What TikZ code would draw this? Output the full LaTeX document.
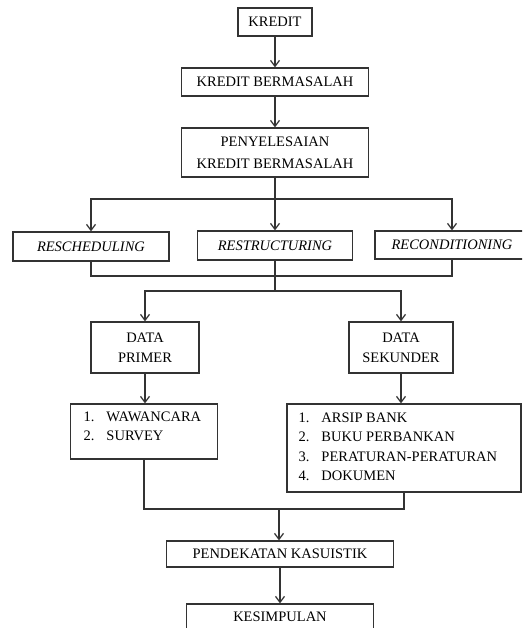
\documentclass[tikz,border=0pt]{standalone}
\usepackage{fontspec}
\setmainfont{Liberation Serif}
\usetikzlibrary{arrows.meta}

\begin{document}
\begin{tikzpicture}[x = 1pt, y = -1pt,
	line width = 1.25pt, draw = black!80,
	>={Straight Barb[length = 6pt, width = 9pt]},
	kotak/.style = {draw, inner sep = 0pt, align = center,
		font = \fontsize{14.5}{20}\selectfont},
	daftar/.style = {inner sep = 0pt, anchor = north west,
		font = \fontsize{14.5}{19.5}\selectfont}]
	\useasboundingbox (0, 0) rectangle (522, 628);
	\clip (0, 0) rectangle (522, 628);

	% boxes
	\node[kotak, minimum width = 74, minimum height = 28] (kredit) at (275, 22) {KREDIT};
	\node[kotak, minimum width = 187, minimum height = 28] (kreditbm) at (275, 82) {KREDIT BERMASALAH};
	\node[kotak, minimum width = 187, minimum height = 49, font = \fontsize{14.5}{22}\selectfont] (penyelesaian) at (275, 152.5) {PENYELESAIAN\\KREDIT BERMASALAH};

	\node[kotak, minimum width = 156, minimum height = 29] (resched) at (91, 246.5) {\itshape RESCHEDULING};
	\node[kotak, minimum width = 155, minimum height = 29] (restruct) at (275, 245.5) {\itshape RESTRUCTURING};
	\node[kotak, minimum width = 154, minimum height = 28] (recond) at (452, 245) {\itshape RECONDITIONING};

	\node[kotak, minimum width = 108, minimum height = 51] (primer) at (145, 347.5) {DATA\\PRIMER};
	\node[kotak, minimum width = 104, minimum height = 51] (sekunder) at (401, 347.5) {DATA\\SEKUNDER};

	\node[kotak, minimum width = 147, minimum height = 55] (wawancara) at (144, 431.5) {};
	\node[daftar] at (83, 407) {\begin{tabular}{@{}l@{\hspace{12pt}}l@{}}1. & WAWANCARA\\ 2. & SURVEY\end{tabular}};
	\node[kotak, minimum width = 234, minimum height = 88] (arsip) at (404, 448) {};
	\node[daftar] at (298, 408) {\begin{tabular}{@{}l@{\hspace{12pt}}l@{}}1. & ARSIP BANK\\ 2. & BUKU PERBANKAN\\ 3. & PERATURAN-PERATURAN\\ 4. & DOKUMEN\end{tabular}};

	\node[kotak, minimum width = 227, minimum height = 26] (pendekatan) at (280, 554) {PENDEKATAN KASUISTIK};
	\node[kotak, minimum width = 187, minimum height = 26] (kesimpulan) at (280, 617) {KESIMPULAN};

	% junctions
	\coordinate (cabang1) at (275, 199);
	\coordinate (gabung1) at (275, 276);
	\coordinate (cabang2) at (275, 291);
	\coordinate (gabung2) at (279, 509);

	% connectors
	\draw[->] (kredit) -- (kredit |- kreditbm.north);
	\draw[->] (kreditbm) -- (kreditbm |- penyelesaian.north);
	\draw (penyelesaian) -- (cabang1);
	\draw[->] (cabang1) -| (resched);
	\draw[->] (cabang1) -- (restruct);
	\draw[->] (cabang1) -| (recond);

	\draw (resched) |- (gabung1) -| (recond);
	\draw (restruct) -- (cabang2);
	\draw[->] (cabang2) -| (primer);
	\draw[->] (cabang2) -| (sekunder);

	\draw[->] (primer) -- (primer |- wawancara.north);
	\draw[->] (sekunder) -- (sekunder |- arsip.north);

	\draw (wawancara) |- (gabung2) -| (arsip);
	\draw[->] (gabung2) -- (gabung2 |- pendekatan.north);
	\draw[->] (pendekatan) -- (pendekatan |- kesimpulan.north);
\end{tikzpicture}
\end{document}
